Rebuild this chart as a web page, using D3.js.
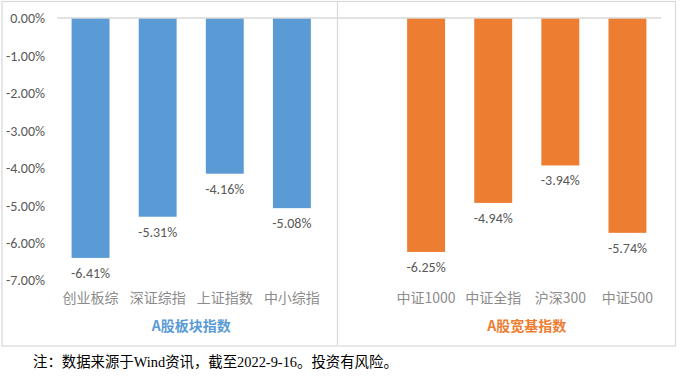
<!DOCTYPE html>
<html><head><meta charset="utf-8">
<script src="https://cdn.jsdelivr.net/npm/d3@7"></script>
<style>
body{margin:0;background:#fff;}
svg{display:block;}
</style></head><body>
<svg id="c" width="680" height="377"></svg>
<script>
const categories = ["创业板综","深证综指","上证指数","中小综指","","中证1000","中证全指","沪深300","中证500"];
const values = [-6.41,-5.31,-4.16,-5.08,null,-6.25,-4.94,-3.94,-5.74];
const groupOf = [0,0,0,0,null,1,1,1,1];
const groups = ["A股板块指数","A股宽基指数"];
const groupColors = ["#5B9BD5","#ED7D31"];
const yTicks = [0,-1,-2,-3,-4,-5,-6,-7];
const footnote = "注：数据来源于Wind资讯，截至2022-9-16。投资有风险。";

(function(){
const svg = d3.select("#c");
const pl=57,pr=661,pt=18,pb=280;
const loc = d3.formatLocale({decimal:".",thousands:",",grouping:[3],currency:["",""],minus:"-"});
const pct = v => loc.format(".2f")(v)+"%";
const x = d3.scaleBand().domain(d3.range(categories.length)).range([pl,pr]).paddingInner(0.435).paddingOuter(0.2175);
const y = d3.scaleLinear().domain([0,-7]).range([pt,pb]);

svg.append("rect").attr("x",2).attr("y",1.5).attr("width",673.5).attr("height",344.5)
  .attr("fill","none").attr("stroke","#d9d9d9").attr("stroke-width",1.2);

const yAxis = d3.axisLeft(y).tickValues(yTicks).tickSize(0).tickPadding(0).tickFormat(pct);
const ga = svg.append("g").attr("transform",`translate(${45},0)`).call(yAxis);
ga.select(".domain").remove();
ga.selectAll("text").attr("fill","#595959").style("font-family","Carlito,'Liberation Sans',sans-serif").style("font-size","14px").attr("dy","0.35em");

const pts = values.map((v,i)=>({v,i})).filter(d=>d.v!==null);
svg.append("g").selectAll("rect").data(pts)
  .join("rect")
  .attr("x",d=>x(d.i)).attr("width",x.bandwidth())
  .attr("y",y(0)).attr("height",d=>y(d.v)-y(0))
  .attr("fill",d=>groupColors[groupOf[d.i]]);

svg.append("line").attr("x1",pl).attr("x2",pr).attr("y1",y(0)).attr("y2",y(0))
  .attr("stroke","#d9d9d9").attr("stroke-width",1.5);

svg.append("line").attr("x1",337.5).attr("x2",337.5).attr("y1",2).attr("y2",345)
  .attr("stroke","#d9d9d9").attr("stroke-width",1.2);

svg.append("g").selectAll("text").data(pts)
  .join("text")
  .attr("x",d=>x(d.i)+x.bandwidth()/2).attr("y",d=>y(d.v)+20)
  .attr("text-anchor","middle").attr("fill","#595959")
  .style("font-family","Carlito,'Liberation Sans',sans-serif").style("font-size","14px")
  .text(d=>pct(d.v));

svg.append("g").selectAll("text").data(categories.map((c,i)=>({c,i})).filter(d=>d.c))
  .join("text")
  .attr("x",d=>x(d.i)+x.bandwidth()/2).attr("y",303)
  .attr("text-anchor","middle").attr("fill","#8c8c8c")
  .style("font-family","'Noto Sans CJK SC',sans-serif").style("font-size","14px")
  .text(d=>d.c);

const gcenters = groups.map((g,gi)=>{
  const idx = groupOf.map((v,i)=>v===gi?i:-1).filter(i=>i>=0);
  return d3.mean(idx,i=>x(i)+x.bandwidth()/2);
});
svg.append("g").selectAll("text").data(groups)
  .join("text")
  .attr("x",(d,i)=>gcenters[i]).attr("y",330.5)
  .attr("text-anchor","middle").attr("fill",(d,i)=>groupColors[i])
  .style("font-family","'Noto Sans CJK SC',sans-serif").style("font-size","14px").style("font-weight","bold")
  .text(d=>d);

svg.append("text").attr("x",33).attr("y",367).attr("fill","#000")
  .style("font-family","'Liberation Serif','Noto Sans CJK SC',serif").style("font-size","14.4px")
  .text(footnote);
})();
</script>
</body></html>
